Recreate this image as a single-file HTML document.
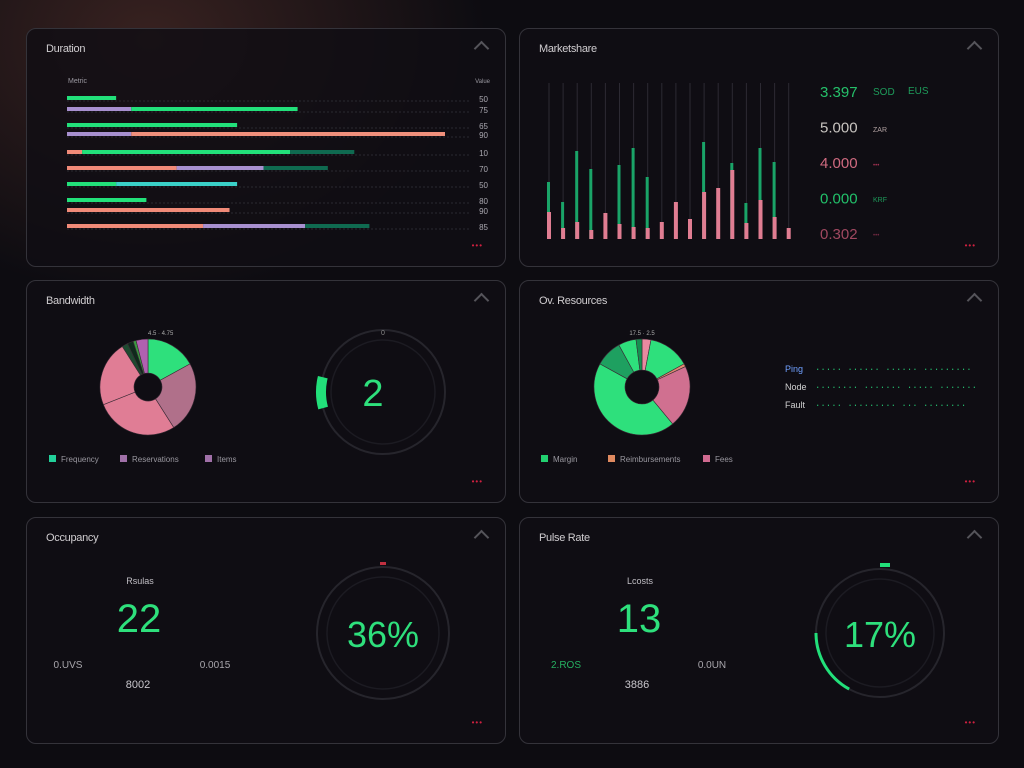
<!DOCTYPE html>
<html><head><meta charset="utf-8">
<style>
html,body{margin:0;padding:0;width:1024px;height:768px;overflow:hidden;background:#0d0c11;font-family:"Liberation Sans",sans-serif;}
#bg{position:absolute;left:0;top:0;width:1024px;height:768px;background:radial-gradient(ellipse 420px 320px at 150px 40px,rgba(85,48,42,0.6),rgba(13,12,17,0) 80%);}
.panel{position:absolute;border:1.5px solid #34333a;border-radius:10px;background:rgba(16,14,20,0.82);box-sizing:border-box;}
.title{position:absolute;left:19px;top:14px;font-size:11px;color:#d0cdd0;letter-spacing:-0.3px;}
.chev{position:absolute;right:18px;top:14px;width:9px;height:9px;border-left:2px solid #55545a;border-top:2px solid #55545a;transform:rotate(45deg);}
.dots{position:absolute;right:22px;bottom:16px;font-size:8px;color:#d02040;letter-spacing:1px;}
svg{position:absolute;left:0;top:0;}
</style></head><body>
<div id="bg"></div>

<div class="panel" style="left:26px;top:28px;width:480px;height:239px">
 <div class="title">Duration</div>
 <div class="chev"></div>
 <div class="dots">•••</div>
</div>
<div class="panel" style="left:519px;top:28px;width:480px;height:239px">
 <div class="title">Marketshare</div>
 <div class="chev"></div>
 <div class="dots">•••</div>
</div>
<div class="panel" style="left:26px;top:280px;width:480px;height:223px">
 <div class="title">Bandwidth</div>
 <div class="chev"></div>
 <div class="dots">•••</div>
</div>
<div class="panel" style="left:519px;top:280px;width:480px;height:223px">
 <div class="title">Ov. Resources</div>
 <div class="chev"></div>
 <div class="dots">•••</div>
</div>
<div class="panel" style="left:26px;top:517px;width:480px;height:227px">
 <div class="title">Occupancy</div>
 <div class="chev"></div>
 <div class="dots">•••</div>
</div>
<div class="panel" style="left:519px;top:517px;width:480px;height:227px">
 <div class="title">Pulse Rate</div>
 <div class="chev"></div>
 <div class="dots">•••</div>
</div>

<svg id="chart" width="1024" height="768"></svg>

<script>
// ---- Panel 1: horizontal stacked bars (percent units) ----
const barRowsY = [98,109,125,134,152,168,184,200,210,226];
const segSalmonA = [0,0,0,0,4,29,0,0,43,36];
const segPurple  = [0,17,0,17,0,23,0,0,0,27];
const segGreen   = [13,44,45,0,55,0,13,21,0,0];
const segCyan    = [0,0,0,0,0,0,32,0,0,0];
const segSalmonB = [0,0,0,83,0,0,0,0,0,0];
const segTeal    = [0,0,0,0,17,17,0,0,0,17];
const barLabels = ["50","75","65","90","10","70","50","80","90","85"];
// ---- Panel 2: columns ----
const colGreen = [57,37,88,70,0,74,91,62,0,0,0,97,0,76,36,91,77,0];
const colPink = [27,11,17,9,26,15,12,11,17,37,20,47,51,69,16,39,22,11];
const colLabels = ["3.397","5.000","4.000","0.000","0.302"];
// ---- Panel 3/4: pies ----
const pie1Vals = [17,24,28,22,2,2,1,4];
const pie2Vals = [3,14,1,21,44,9,6,2];
const gauge1Val = 2, gauge2Val = 36, gauge3Val = 17;

const svg = document.getElementById('chart');
const NS = 'http://www.w3.org/2000/svg';
function mk(tag, attrs, parent){const e=document.createElementNS(NS,tag);for(const k in attrs)e.setAttribute(k,attrs[k]);(parent||svg).appendChild(e);return e;}
function txt(x,y,s,size,fill,anchor){const t=mk('text',{x:x,y:y,'font-size':size,fill:fill,'text-anchor':anchor||'start','font-family':'Liberation Sans, sans-serif'});t.textContent=s;return t;}

// Panel 1
const xScale = v => v*3.78;
txt(68,83,"Metric",7,"#9a98a0");
txt(490,83,"Value",6,"#9a98a0","end");
const seriesList=[[segSalmonA,'#f08a78'],[segPurple,'#a890d0'],[segGreen,'#22e07a'],[segCyan,'#3ad0c8'],[segSalmonB,'#f0907c'],[segTeal,'#0f6a50']];
barRowsY.forEach((y,i)=>{
  const g=mk('line',{x1:67,x2:470,y1:y+3,y2:y+3,stroke:'#2a2930','stroke-dasharray':'2 2'});
  
  
  let x=67;
  seriesList.forEach(([arr,c])=>{ const v=arr[i]; if(v<=0)return; const w=xScale(v);
    const r=mk('rect',{x:x,y:y-2,width:w,height:4,fill:c});
    
    
    x+=w;});
  const t=txt(488,y+4,barLabels[i],8,"#aaa8b0","end");
  
  
});

// Panel 2
const colX = i => 547 + i*14.1;
const base = 239;
const yCol = v => base - v;
colGreen.forEach((v,i)=>{
  const gl=mk('line',{x1:colX(i)+2,x2:colX(i)+2,y1:83,y2:base,stroke:'#2c2a33','stroke-width':1});
  
  
  if(v>0){const r=mk('rect',{x:colX(i),y:yCol(v),width:3,height:base-yCol(v),fill:'#1aa468'});
    
    }
  const p=mk('rect',{x:colX(i),y:yCol(colPink[i]),width:4,height:base-yCol(colPink[i]),fill:'#e07d92'});
  
  
});
const lc=["#25c06a","#c8c4c0","#d06a80","#22c06a","#a04860"];
colLabels.forEach((s,i)=>{const t=txt(820,97+i*35.5,s,15,lc[i]);
  
  });
txt(873,95,"SOD",10,"#1e9a5a");txt(908,94,"EUS",10,"#1e9a5a");
txt(873,132,"ZAR",7,"#b0a0a0");txt(873,167,"•••",6,"#a03050");
txt(873,202,"KRF",7,"#1e9a5a");txt(873,237,"•••",6,"#702840");

// Pies
function pie(cx,cy,r,ri,vals,cols,name){
  const tot=vals.reduce((a,b)=>a+b,0);let a=0;
  vals.forEach((v,i)=>{const a0=a/tot*2*Math.PI,a1=(a+v)/tot*2*Math.PI;a+=v;
    const p=(ang,rr)=>[cx+rr*Math.sin(ang),cy-rr*Math.cos(ang)];
    const [x0,y0]=p(a0,r),[x1,y1]=p(a1,r),[x2,y2]=p(a1,ri),[x3,y3]=p(a0,ri);
    const lg=(a1-a0)>Math.PI?1:0;
    const s=mk('path',{d:`M${x0},${y0}A${r},${r} 0 ${lg} 1 ${x1},${y1}L${x2},${y2}A${ri},${ri} 0 ${lg} 0 ${x3},${y3}Z`,fill:cols[i],stroke:'#3a2a35','stroke-width':0.6});
    
    
  });
}
pie(148,387,48,14,pie1Vals,['#2ee07c','#b0708a','#e07d95','#e07d95','#1e4a30','#0f2a1c','#3a9a40','#b060b0'],'pie-1');
txt(148,335,"4.5 · 4.75",6,"#aaa");
pie(642,387,48,17,pie2Vals,['#e88aa0','#2ee07c','#e08a70','#d07090','#2ee07c','#1ea060','#2ee07c','#159050'],'pie-2');
txt(642,335,"17.5 · 2.5",6,"#aaa","middle");
function legend(x,y,c,s){const r=mk('rect',{x:x,y:y-5,width:7,height:7,fill:c});
  
  
  txt(x+12,y+2,s,8,'#9a98a0');}
legend(49,460,'#22d09a','Frequency');legend(120,460,'#a070a8','Reservations');legend(205,460,'#a070a8','Items');
legend(541,460,'#22d070','Margin');legend(608,460,'#e08a60','Reimbursements');legend(703,460,'#d06a90','Fees');

// dense text block
const rowsT=[["Ping","····· ······ ······ ·········"],["Node","········ ······· ····· ·······"],["Fault"," ····· ········· ··· ········"]];
rowsT.forEach((r,i)=>{txt(785,372+i*18,r[0],9,i==0?'#70a0ff':'#d0d0d0');
  const t=txt(815,372+i*18,r[1],9,'#25c070');t.setAttribute('font-family','Liberation Mono, monospace');});

// Gauges
function gauge(cx,cy,r,pct,startDeg,dir,name,w){
  mk('circle',{cx:cx,cy:cy,r:r,fill:'none',stroke:'#26252c','stroke-width':2});
  mk('circle',{cx:cx,cy:cy,r:r-10,fill:'none',stroke:'#1c1b22','stroke-width':1.5});
  if(pct>0){const a0=startDeg*Math.PI/180,a1=(startDeg+dir*pct*3.6)*Math.PI/180;
    const P=a=>[cx+r*Math.sin(a),cy-r*Math.cos(a)];
    const [x0,y0]=P(a0),[x1,y1]=P(a1);
    const arc=mk('path',{d:`M${x0},${y0}A${r},${r} 0 ${pct>50?1:0} ${dir>0?1:0} ${x1},${y1}`,fill:'none',stroke:'#22e07a','stroke-width':w});
    
    }
}
gauge(383,392,62,gauge1Val*4,255,1,'gauge-1',10);
txt(383,335,"0",7,"#888","middle");
const g1=txt(373,406,String(gauge1Val),38,"#2ee07c","middle");



gauge(383,633,66,0,0,1,'gauge-2',3);
mk('rect',{x:380,y:562,width:6,height:3,fill:'#c03040'});
const g2=txt(383,647,gauge2Val+"%",36,"#2ee07c","middle");



gauge(880,633,64,gauge3Val,270,-1,'gauge-3',3);
mk('rect',{x:880,y:563,width:10,height:4,fill:'#22e07a'});
const g3=txt(880,647,gauge3Val+"%",36,"#2ee07c","middle");



// KPIs
txt(140,584,"Rsulas",9,"#c0bec4","middle");
const k1=txt(139,632,"22",40,"#2ee07c","middle");
txt(68,668,"0.UVS",10,"#a8a6ac","middle");txt(215,668,"0.0015",10,"#a8a6ac","middle");txt(138,688,"8002",11,"#c8c6cc","middle");
txt(640,584,"Lcosts",9,"#c0bec4","middle");
const k2=txt(639,632,"13",40,"#2ee07c","middle");
txt(566,668,"2.ROS",10,"#25b060","middle");txt(712,668,"0.0UN",10,"#a8a6ac","middle");txt(637,688,"3886",11,"#c8c6cc","middle");
</script>
</body></html>
